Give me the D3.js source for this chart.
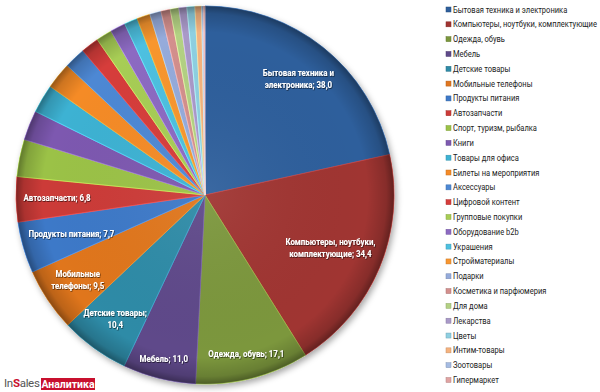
<!DOCTYPE html>
<html>
<head>
<meta charset="utf-8">
<script src="https://cdn.jsdelivr.net/npm/d3@7"></script>
<style>
  body { margin: 0; background: #fff; }
  svg { display: block; font-family: Roboto, "Noto Sans", sans-serif; }
</style>
</head>
<body>
<div id="chart"></div>
<script>
const categories = [
  "Бытовая техника и электроника", "Компьютеры, ноутбуки, комплектующие", "Одежда, обувь",
  "Мебель", "Детские товары", "Мобильные телефоны", "Продукты питания", "Автозапчасти",
  "Спорт, туризм, рыбалка", "Книги", "Товары для офиса", "Билеты на мероприятия",
  "Аксессуары", "Цифровой контент", "Групповые покупки", "Оборудование b2b", "Украшения",
  "Стройматериалы", "Подарки", "Косметика и парфюмерия", "Для дома", "Лекарства",
  "Цветы", "Интим-товары", "Зоотовары", "Гипермаркет"
]
const values = [38.0, 34.4, 17.1, 11.0, 10.4, 9.5, 7.7, 6.8,
  5.6, 4.5, 4.3, 4.0, 3.2, 2.7, 2.4, 2.3, 2.0, 2.0, 1.7, 1.4, 1.3, 1.2, 1.2, 1.0, 0.3, 0.2]
const colors = [
  "#2e5f9c", "#a03431", "#7b973c", "#5f4a8a", "#2f8ba7", "#e0761f",
  "#3d79c8", "#cc3b38", "#9bc247", "#7d59b0", "#3eb2d3", "#f58b27",
  "#4d88d4", "#d63d3b", "#a7cd55", "#8c6ac2", "#4dc0e0", "#f8962f",
  "#95abdb", "#d38f8d", "#b3d183", "#a999c8", "#8ecfe1", "#f5b27e",
  "#a5bbe2", "#e0a3a2"
]
// labels shown inside the slices (line breaks as in the original)
const sliceLabels = [
  "Бытовая техника и\nэлектроника", "Компьютеры, ноутбуки,\nкомплектующие", "Одежда, обувь",
  "Мебель", "Детские товары;\n", "Мобильные\nтелефоны", "Продукты питания", "Автозапчасти"
]

const width = 600, height = 392
const cx = 205, cy = 195, radius = 189
const legendTextWidth = 144   // width of the longest legend entry
const labelSqueeze = 0.9       // narrow, Calibri-like labels

const svg = d3.select("#chart").append("svg")
  .attr("width", width)
  .attr("height", height)

const defs = svg.append("defs")

const shadow = defs.append("filter").attr("id", "pieShadow")
  .attr("x", "-10%").attr("y", "-10%").attr("width", "120%").attr("height", "120%")
shadow.append("feDropShadow")
  .attr("dx", 2).attr("dy", 3).attr("stdDeviation", 3)
  .attr("flood-color", "#000").attr("flood-opacity", 0.35)

const textShadow = defs.append("filter").attr("id", "textShadow")
textShadow.append("feDropShadow")
  .attr("dx", 0.6).attr("dy", 0.8).attr("stdDeviation", 0.6)
  .attr("flood-color", "#000").attr("flood-opacity", 0.7)

const rim = defs.append("radialGradient").attr("id", "rim")
rim.append("stop").attr("offset", "0%").attr("stop-color", "#fff").attr("stop-opacity", 0.06)
rim.append("stop").attr("offset", "86%").attr("stop-color", "#000").attr("stop-opacity", 0)
rim.append("stop").attr("offset", "96%").attr("stop-color", "#000").attr("stop-opacity", 0.16)
rim.append("stop").attr("offset", "100%").attr("stop-color", "#000").attr("stop-opacity", 0.38)

const pie = d3.pie().sort(null).value(d => d)
const arcs = pie(values)
const arc = d3.arc().innerRadius(0).outerRadius(radius)

const g = svg.append("g").attr("transform", `translate(${cx},${cy})`)

const slices = g.append("g").attr("filter", "url(#pieShadow)")
slices.selectAll("path")
  .data(arcs)
  .enter()
  .append("path")
  .attr("d", arc)
  .attr("fill", (d, i) => colors[i])
  .attr("stroke", (d, i) => d3.color(colors[i]).brighter(0.7))
  .attr("stroke-width", 0.8)
  .attr("stroke-linejoin", "round")

g.append("circle")
  .attr("r", radius)
  .attr("fill", "url(#rim)")
  .attr("pointer-events", "none")

// data labels: pushed outward along the mid angle as far as the box fits in the pie
const fmt = v => v.toFixed(1).replace(".", ",")
const labelGroup = g.append("g").attr("filter", "url(#textShadow)")

arcs.slice(0, sliceLabels.length).forEach((d, i) => {
  let raw = sliceLabels[i]
  let lines
  if (raw.endsWith(";\n")) lines = [raw.replace("\n", ""), fmt(values[i])]
  else {
    lines = raw.split("\n")
    lines[lines.length - 1] += "; " + fmt(values[i])
  }
  const t = labelGroup.append("text")
    .attr("fill", "#fff")
    .attr("font-size", 8.8)
    .attr("font-weight", "bold")
    .attr("text-anchor", "middle")
  lines.forEach((l, k) => {
    t.append("tspan").attr("x", 0).attr("dy", k === 0 ? 0 : 12).text(l)
  })
  const bb = t.node().getBBox()
  const w = bb.width * labelSqueeze, h = bb.height
  const mid = (d.startAngle + d.endAngle) / 2
  const limit = radius - 7
  let r = radius
  for (; r > 0; r -= 1) {
    const x = r * Math.sin(mid), y = -r * Math.cos(mid)
    const corners = [[x - w / 2, y - h / 2], [x + w / 2, y - h / 2], [x - w / 2, y + h / 2], [x + w / 2, y + h / 2]]
    if (corners.every(c => Math.hypot(c[0], c[1]) <= limit)) break
  }
  const x = r * Math.sin(mid), y = -r * Math.cos(mid)
  const yTop = y - h / 2 - bb.y
  t.attr("transform", `translate(${x},${yTop}) scale(${labelSqueeze},1)`)
})

// legend
const legendY = d3.scalePoint().domain(categories).range([9.5, 380])
const legend = svg.append("g").attr("transform", "translate(446,0)")
const items = legend.selectAll("g")
  .data(categories)
  .enter()
  .append("g")
  .attr("transform", d => `translate(0,${legendY(d)})`)

items.append("rect")
  .attr("x", 0).attr("y", -2.5)
  .attr("width", 5).attr("height", 5)
  .attr("fill", (d, i) => colors[i])
  .attr("stroke", (d, i) => d3.color(colors[i]).darker(0.6))
  .attr("stroke-width", 0.5)

const legendText = items.append("text")
  .attr("y", 3)
  .attr("font-size", 8.8)
  .attr("fill", "#222")
  .text(d => d)

const maxW = d3.max(legendText.nodes(), n => n.getComputedTextLength())
const sx = Math.min(1, legendTextWidth / maxW)
legendText.attr("transform", `translate(7,0) scale(${sx},1)`)

// logo
const logo = svg.append("g").attr("transform", "translate(4,387)")
const brand = logo.append("text")
  .attr("font-size", 11.5)
  .attr("fill", "#555")
  .attr("letter-spacing", -0.3)
brand.append("tspan").text("In")
brand.append("tspan").attr("fill", "#c8102e").attr("font-weight", "bold").text("S")
brand.append("tspan").text("ales")
logo.append("rect")
  .attr("x", 37).attr("y", -9)
  .attr("width", 54).attr("height", 12)
  .attr("fill", "#c8102e")
logo.append("text")
  .attr("x", 64).attr("y", 0.5)
  .attr("text-anchor", "middle")
  .attr("font-size", 10.5)
  .attr("font-weight", "bold")
  .attr("fill", "#fff")
  .text("Аналитика")
</script>
</body>
</html>
